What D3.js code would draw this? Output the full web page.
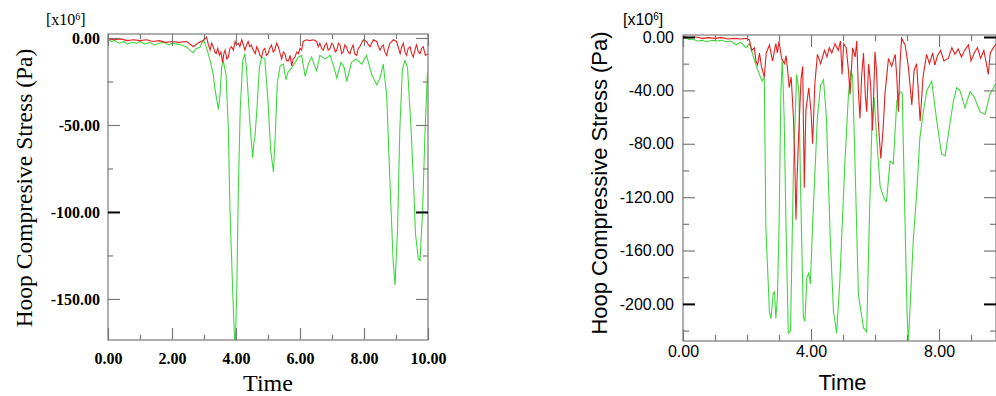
<!DOCTYPE html>
<html>
<head>
<meta charset="utf-8">
<script src="https://cdn.jsdelivr.net/npm/d3@7"></script>
<style>
  body { margin: 0; background: #fff; }
  svg { display: block; }
</style>
</head>
<body>
<div id="viz"></div>
<script>
// values, stress in units of 1e6 Pa
const leftGreen = [[0,-1],[0.1,-2],[0.2,-1.5],[0.35,-3],[0.5,-2],[0.6,-3.5],[0.75,-2.5],[0.9,-3],[1.0,-2],[1.15,-3.5],[1.3,-2.5],[1.45,-4],[1.6,-3],[1.75,-2.5],[1.9,-4],[2.0,-3],[2.15,-3.5],[2.3,-4],[2.45,-5],[2.55,-7],[2.66,-8.5],[2.75,-6],[2.87,-5.5],[2.98,-1],[3.08,-5.5],[3.19,-13],[3.29,-21],[3.34,-29],[3.45,-41],[3.5,-33],[3.55,-17],[3.6,-13],[3.69,-21],[3.76,-52],[3.81,-98],[3.9,-147],[3.97,-180],[4.02,-150],[4.07,-90],[4.13,-42],[4.21,-13],[4.28,-9],[4.33,-18],[4.38,-33],[4.44,-50],[4.52,-69],[4.56,-60],[4.59,-57],[4.65,-42],[4.73,-17],[4.8,-11],[4.9,-12],[5.0,-36],[5.08,-64],[5.17,-77],[5.23,-55],[5.29,-26],[5.38,-16],[5.48,-15],[5.56,-24],[5.62,-20],[5.74,-17],[5.85,-14],[5.95,-11],[6.05,-10],[6.16,-22],[6.26,-15],[6.36,-11],[6.52,-19],[6.62,-10],[6.78,-12],[6.94,-10],[7.05,-16],[7.15,-23],[7.28,-14],[7.38,-17],[7.46,-25],[7.61,-14],[7.75,-12],[7.93,-15],[8.08,-10],[8.24,-21],[8.4,-27],[8.5,-23],[8.6,-15],[8.71,-33],[8.81,-82],[8.91,-128],[8.97,-142],[9.05,-109],[9.12,-52],[9.2,-18],[9.28,-13],[9.36,-17],[9.47,-52],[9.54,-80],[9.61,-113],[9.7,-127],[9.75,-128],[9.83,-100],[9.91,-52],[9.98,-21],[10,-20]];

const leftRed = [[0,-0.5],[0.2,-1],[0.4,-0.5],[0.6,-1.5],[0.8,-1],[1.0,-1.5],[1.2,-1],[1.4,-2],[1.6,-1.5],[1.8,-2.5],[2.0,-2],[2.2,-2.5],[2.46,-2],[2.6,-4],[2.67,-5],[2.8,-3],[2.98,-1.5],[3.08,0.5],[3.14,-4],[3.19,-7],[3.24,-3],[3.29,-5],[3.34,-8],[3.38,-9],[3.43,-6],[3.48,-10],[3.53,-8],[3.58,-14],[3.62,-9],[3.66,-7],[3.71,-12],[3.76,-11],[3.81,-6],[3.86,-5],[3.92,-7],[3.97,-2],[4.02,-4],[4.07,-3],[4.12,-5],[4.18,-1],[4.23,-4],[4.28,-7],[4.33,-4],[4.38,-2],[4.43,-5],[4.48,-4],[4.54,-7],[4.6,-9],[4.65,-5],[4.7,-7],[4.75,-10],[4.8,-11],[4.85,-7],[4.9,-6],[4.95,-10],[5.0,-9],[5.05,-6],[5.11,-4],[5.16,-8],[5.21,-7],[5.27,-3],[5.32,-5],[5.38,-9],[5.43,-12],[5.48,-8],[5.53,-9],[5.58,-13],[5.64,-13],[5.69,-10],[5.74,-16],[5.79,-12],[5.84,-11],[5.9,-8],[5.95,-9],[6.0,-6],[6.05,-7],[6.1,-2],[6.2,-1],[6.3,-1.5],[6.42,-1],[6.52,-2],[6.57,-5],[6.62,-3],[6.68,-6],[6.73,-7],[6.78,-4],[6.83,-3],[6.88,-7],[6.94,-6],[6.99,-3],[7.04,-4],[7.1,-8],[7.15,-7],[7.2,-3],[7.25,-4],[7.3,-9],[7.35,-8],[7.4,-4],[7.45,-5],[7.5,-8],[7.56,-9],[7.61,-6],[7.66,-4],[7.71,-9],[7.77,-10],[7.82,-6],[7.87,-5],[7.92,-3],[7.98,-1],[8.08,-2],[8.14,-4],[8.19,-5],[8.24,-3],[8.29,-1],[8.4,-2],[8.45,-5],[8.5,-7],[8.55,-5],[8.6,-4],[8.65,-8],[8.71,-10],[8.76,-6],[8.81,-3],[8.92,-1],[9.02,-2],[9.08,-6],[9.13,-9],[9.18,-5],[9.23,-3],[9.28,-8],[9.33,-10],[9.38,-6],[9.44,-5],[9.49,-9],[9.54,-11],[9.59,-7],[9.64,-4],[9.7,-8],[9.75,-9],[9.8,-6],[9.85,-5],[9.92,-10],[10,-9]];

const rightGreen = [[0,-0.5],[0.1,-1],[0.2,-2],[0.3,-1.5],[0.45,-3],[0.6,-2.5],[0.75,-3.5],[0.9,-2.5],[1.05,-3],[1.2,-2.5],[1.35,-3.5],[1.5,-3],[1.66,-5.8],[1.8,-4],[1.97,-8],[2.07,-5],[2.18,-13],[2.28,-21],[2.39,-28],[2.47,-33],[2.54,-30],[2.59,-143],[2.7,-206],[2.75,-211],[2.82,-192],[2.86,-191],[2.9,-211],[2.95,-195],[3.0,-143],[3.06,-40],[3.1,-17],[3.16,-60],[3.22,-143],[3.29,-222],[3.36,-220],[3.45,-100],[3.55,-28],[3.62,-40],[3.68,-120],[3.76,-210],[3.81,-213],[3.87,-180],[3.93,-177],[3.98,-185],[4.05,-140],[4.2,-60],[4.3,-36],[4.39,-32],[4.48,-60],[4.6,-150],[4.7,-205],[4.8,-222],[4.9,-183],[5.06,-93],[5.17,-43],[5.25,-25],[5.3,-30],[5.38,-100],[5.48,-193],[5.64,-218],[5.74,-221],[5.82,-140],[5.9,-68],[5.97,-45],[6.05,-75],[6.16,-112],[6.3,-122],[6.36,-123],[6.47,-93],[6.57,-95],[6.68,-48],[6.78,-41],[6.85,-42],[6.92,-120],[7.0,-206],[7.04,-230],[7.1,-200],[7.2,-150],[7.3,-118],[7.4,-76],[7.51,-56],[7.62,-40],[7.77,-33],[7.93,-63],[8.08,-88],[8.19,-89],[8.34,-65],[8.45,-48],[8.55,-38],[8.65,-40],[8.81,-53],[8.97,-41],[9.1,-45],[9.28,-56],[9.44,-58],[9.59,-43],[9.75,-36],[9.8,-35]];

const rightRed = [[0,0.5],[0.2,-0.5],[0.4,0],[0.6,-1],[0.8,-0.5],[1.0,-1],[1.2,-0.5],[1.4,-1.5],[1.6,-1],[1.8,-1.5],[1.97,-1],[2.07,-2],[2.15,-10],[2.23,-8],[2.28,-18],[2.33,-21],[2.39,-12],[2.45,-22],[2.54,-30],[2.6,-12],[2.7,-6],[2.8,-18],[2.9,-5],[2.95,-12],[3.0,-3],[3.08,-16],[3.17,-20],[3.22,-14],[3.27,-25],[3.32,-38],[3.38,-30],[3.45,-60],[3.5,-100],[3.53,-137],[3.56,-110],[3.61,-75],[3.69,-31],[3.74,-22],[3.79,-113],[3.84,-55],[3.93,-38],[4.0,-56],[4.05,-80],[4.12,-35],[4.2,-13],[4.3,-20],[4.42,-10],[4.5,-15],[4.57,-8],[4.65,-12],[4.75,-5],[4.85,-10],[4.92,-3],[4.97,-28],[5.02,-5],[5.1,-8],[5.17,-25],[5.22,-43],[5.3,-8],[5.38,-15],[5.43,-3],[5.48,-40],[5.53,-61],[5.58,-30],[5.64,-12],[5.7,-45],[5.74,-56],[5.8,-20],[5.86,-35],[5.92,-70],[6.0,-11],[6.05,-26],[6.1,-63],[6.18,-91],[6.25,-70],[6.31,-43],[6.42,-16],[6.52,-22],[6.63,-13],[6.68,-30],[6.73,-56],[6.78,-20],[6.83,-1],[6.94,-6],[7.04,-22],[7.15,-51],[7.22,-25],[7.3,-20],[7.41,-63],[7.5,-30],[7.61,-13],[7.7,-20],[7.8,-12],[7.87,-21],[7.95,-14],[8.05,-10],[8.15,-18],[8.29,-16],[8.4,-8],[8.5,-13],[8.6,-9],[8.7,-15],[8.8,-10],[8.92,-6],[9.0,-18],[9.1,-12],[9.2,-8],[9.3,-16],[9.4,-10],[9.48,-20],[9.54,-28],[9.6,-12],[9.7,-8],[9.8,-5]];

// tick labels
const leftXTicks = [0, 2, 4, 6, 8, 10];
const leftXMinor = [1, 3, 5, 7, 9];
const leftYTicks = [0, -50, -100, -150];
const leftYMinor = [-25, -75, -125];
const rightXTicks = [0, 4, 8];
const rightXMinor = [1, 2, 3, 5, 6, 7, 9];
const rightYTicks = [0, -40, -80, -120, -160, -200];
const rightYMinor = [-20, -60, -100, -140, -180, -220];

const W = 996, H = 396;
const svg = d3.select("#viz").append("svg")
  .attr("width", W).attr("height", H);

// plain hyphen, as in the original plots
const fmt = d => d.toFixed(2);

function drawPanel(p) {
  const x = d3.scaleLinear().domain(p.xDomain).range([p.left, p.right]);
  const y = d3.scaleLinear().domain(p.yDomain).range([p.bottom, p.top]);
  const g = svg.append("g");
  const font = p.font;

  g.append("clipPath").attr("id", p.id)
    .append("rect")
    .attr("x", p.left).attr("y", p.top)
    .attr("width", p.right - p.left).attr("height", p.bottom - p.top);

  const line = d3.line().x(d => x(d[0])).y(d => y(d[1]));
  const curves = g.append("g").attr("clip-path", `url(#${p.id})`);
  curves.append("path").datum(p.green)
    .attr("d", line).attr("fill", "none")
    .attr("stroke", "#3fd83f").attr("stroke-width", 1.1);
  curves.append("path").datum(p.red)
    .attr("d", line).attr("fill", "none")
    .attr("stroke", "#e52020").attr("stroke-width", 1.1);

  // frame
  g.append("rect")
    .attr("x", p.left).attr("y", p.top)
    .attr("width", p.right - p.left).attr("height", p.bottom - p.top)
    .attr("fill", "none").attr("stroke", "#7a7a7a").attr("stroke-width", 1.2);

  // inward ticks on all four sides
  const axes = [
    { ax: d3.axisBottom(x), tr: `translate(0,${p.bottom})`, maj: p.xTicks, min: p.xMinor, lab: true },
    { ax: d3.axisTop(x), tr: `translate(0,${p.top})`, maj: p.xTicks, min: p.xMinor, lab: false },
    { ax: d3.axisLeft(y), tr: `translate(${p.left},0)`, maj: p.yTicks, min: p.yMinor, lab: true, yy: true },
    { ax: d3.axisRight(y), tr: `translate(${p.right},0)`, maj: p.yTicks, min: p.yMinor, lab: false, yy: true }
  ];
  axes.forEach(a => {
    const major = g.append("g").attr("transform", a.tr)
      .call(a.ax.tickValues(a.maj).tickSizeInner(-p.major).tickSizeOuter(0)
        .tickPadding(a.yy ? p.yPad : p.xPad)
        .tickFormat(a.lab ? fmt : ""));
    major.select(".domain").remove();
    major.selectAll(".tick line")
      .attr("stroke", d => (a.yy && p.dark.includes(d)) ? "#000" : "#7a7a7a")
      .attr("stroke-width", d => (a.yy && p.dark.includes(d)) ? 2 : 1.2);
    major.selectAll(".tick text")
      .attr("font-family", font).attr("font-size", p.tickSize)
      .attr("font-weight", p.tickWeight).attr("fill", "#000");

    const minor = g.append("g").attr("transform", a.tr)
      .call(a.ax.tickValues(a.min).tickSizeInner(-p.minor).tickFormat(""));
    minor.select(".domain").remove();
    minor.selectAll(".tick line").attr("stroke", "#7a7a7a").attr("stroke-width", 1.2);
  });

  // axis titles
  g.append("text")
    .attr("x", (p.left + p.right) / 2 + p.timeDx).attr("y", p.timeY)
    .attr("text-anchor", "middle")
    .attr("font-family", font).attr("font-size", p.titleSize).attr("fill", "#000")
    .text("Time");

  g.append("text")
    .attr("transform", `translate(${p.ylabX},${p.ylabY}) rotate(-90)`)
    .attr("text-anchor", "middle")
    .attr("font-family", font).attr("font-size", p.ylabSize).attr("fill", "#000")
    .text(p.ylab);

  const ex = g.append("text")
    .attr("x", p.expX).attr("y", 25)
    .attr("font-family", font).attr("font-size", 16).attr("fill", "#000");
  ex.append("tspan").text("[x10");
  ex.append("tspan").attr("baseline-shift", "super").attr("font-size", 10).text("6");
  ex.append("tspan").text("]");
}

drawPanel({
  id: "clipL", left: 108, right: 428, top: 34, bottom: 340,
  xDomain: [0, 10], yDomain: [-173.6, 2.3],
  green: leftGreen, red: leftRed,
  xTicks: leftXTicks, xMinor: leftXMinor, yTicks: leftYTicks, yMinor: leftYMinor,
  major: 12, minor: 5, dark: [-100], xPad: 13, yPad: 8,
  font: "'Liberation Serif', 'Times New Roman', serif",
  tickSize: 16, tickWeight: "bold", titleSize: 24, timeDx: 0, timeY: 391,
  ylab: "Hoop Compresive Stress (Pa)", ylabX: 32, ylabY: 188, ylabSize: 23.5,
  expX: 46
});

drawPanel({
  id: "clipR", left: 683, right: 996, top: 35, bottom: 341,
  xDomain: [0, 9.78], yDomain: [-227.8, 1.5],
  green: rightGreen, red: rightRed,
  xTicks: rightXTicks, xMinor: rightXMinor, yTicks: rightYTicks, yMinor: rightYMinor,
  major: 12, minor: 6, dark: [0, -100, -200], xPad: 5, yPad: 9,
  font: "'Liberation Sans', Arial, sans-serif",
  tickSize: 16, tickWeight: "normal", titleSize: 22, timeDx: 3, timeY: 390,
  ylab: "Hoop Compressive Stress (Pa)", ylabX: 607, ylabY: 183, ylabSize: 22,
  expX: 623
});
</script>
</body>
</html>
